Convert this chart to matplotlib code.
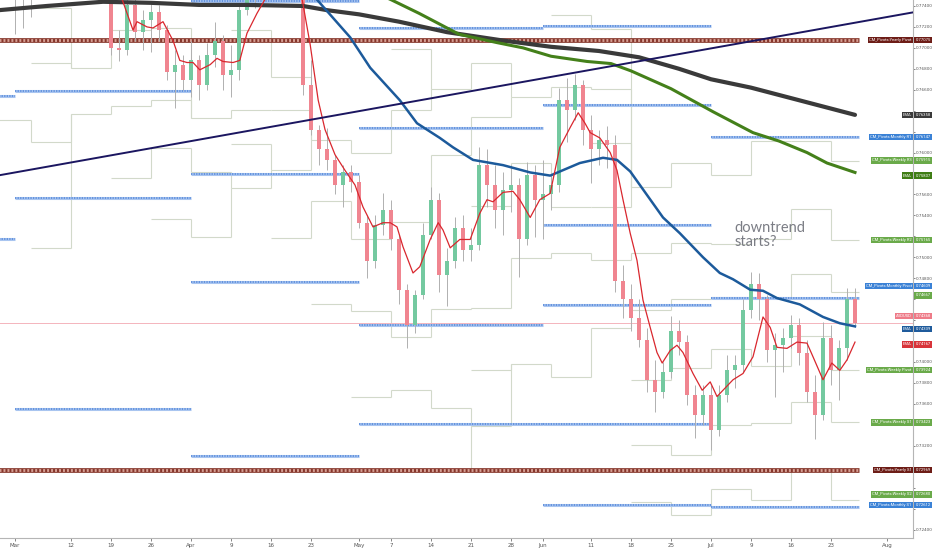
import numpy as np
import pandas as pd
import matplotlib
matplotlib.use('Agg')
import matplotlib.pyplot as plt
import matplotlib.transforms as mtransforms

# AUDUSD daily candles, index 0 = 2018-03-01 (trading days)
opens = [0.7767, 0.7760, 0.7765, 0.7779, 0.7822, 0.7790, 0.7764, 0.7832, 0.7872, 0.7900, 0.7880, 0.7860,
         0.7758, 0.7700, 0.7698, 0.7741, 0.7715, 0.7727, 0.7734, 0.7717, 0.7677, 0.7684,
         0.7669, 0.7688, 0.7665, 0.7693, 0.7707, 0.7674, 0.7679, 0.7736, 0.7765, 0.7758, 0.7760, 0.7790, 0.7795, 0.7805,
         0.7755, 0.7665, 0.7622, 0.7603, 0.7593, 0.7569, 0.7581,
         0.7572, 0.7533, 0.7496, 0.7531, 0.7545, 0.7517, 0.7469, 0.7435, 0.7464, 0.7521, 0.7555, 0.7483, 0.7496,
         0.7528, 0.7507, 0.7512, 0.7588, 0.7569, 0.7545, 0.7564, 0.7569, 0.7517, 0.7579,
         0.7555, 0.7560, 0.7569, 0.7650, 0.7641, 0.7665, 0.7622, 0.7603, 0.7612, 0.7607, 0.7477, 0.7460, 0.7442,
         0.7421, 0.7383, 0.7371, 0.7390, 0.7430, 0.7419, 0.7368, 0.7349,
         0.7368, 0.7335, 0.7368, 0.7392, 0.7397, 0.7450, 0.7474, 0.7460, 0.7411, 0.7416, 0.7423, 0.7435, 0.7409,
         0.7371, 0.7349, 0.7423, 0.7392, 0.7413, 0.7460]
highs = [0.7790, 0.7785, 0.7789, 0.7832, 0.7830, 0.7805, 0.7840, 0.7880, 0.7917, 0.7910, 0.7890, 0.7865,
         0.7765, 0.7717, 0.7753, 0.7750, 0.7736, 0.7744, 0.7741, 0.7722, 0.7698, 0.7693,
         0.7707, 0.7693, 0.7705, 0.7725, 0.7712, 0.7703, 0.7741, 0.7774, 0.7782, 0.7780, 0.7795, 0.7812, 0.7815, 0.7810,
         0.7765, 0.7688, 0.7626, 0.7623, 0.7598, 0.7588, 0.7588,
         0.7579, 0.7540, 0.7540, 0.7561, 0.7555, 0.7521, 0.7474, 0.7469, 0.7533, 0.7567, 0.7561, 0.7509, 0.7538,
         0.7540, 0.7528, 0.7605, 0.7603, 0.7588, 0.7581, 0.7588, 0.7576, 0.7591, 0.7588,
         0.7593, 0.7579, 0.7662, 0.7671, 0.7675, 0.7669, 0.7636, 0.7622, 0.7625, 0.7617, 0.7493, 0.7474, 0.7460,
         0.7432, 0.7402, 0.7400, 0.7444, 0.7440, 0.7426, 0.7378, 0.7378,
         0.7378, 0.7378, 0.7407, 0.7407, 0.7460, 0.7486, 0.7485, 0.7464, 0.7428, 0.7432, 0.7445, 0.7442, 0.7421,
         0.7388, 0.7438, 0.7435, 0.7421, 0.7471, 0.7471]
lows = [0.7713, 0.7719, 0.7729, 0.7772, 0.7770, 0.7755, 0.7755, 0.7825, 0.7850, 0.7862, 0.7848, 0.7755,
        0.7693, 0.7687, 0.7693, 0.7707, 0.7698, 0.7696, 0.7707, 0.7669, 0.7643, 0.7660,
        0.7653, 0.7650, 0.7660, 0.7682, 0.7660, 0.7653, 0.7669, 0.7731, 0.7738, 0.7745, 0.7752, 0.7760, 0.7780, 0.7748,
        0.7655, 0.7617, 0.7588, 0.7583, 0.7560, 0.7548, 0.7562,
        0.7528, 0.7480, 0.7490, 0.7521, 0.7507, 0.7455, 0.7413, 0.7428, 0.7460, 0.7517, 0.7467, 0.7453, 0.7490,
        0.7496, 0.7496, 0.7507, 0.7548, 0.7528, 0.7521, 0.7543, 0.7481, 0.7512, 0.7519,
        0.7517, 0.7545, 0.7562, 0.7610, 0.7631, 0.7607, 0.7571, 0.7588, 0.7585, 0.7467, 0.7442, 0.7430, 0.7414,
        0.7371, 0.7352, 0.7366, 0.7385, 0.7407, 0.7359, 0.7327, 0.7340,
        0.7316, 0.7329, 0.7362, 0.7375, 0.7390, 0.7442, 0.7440, 0.7400, 0.7367, 0.7390, 0.7413, 0.7397, 0.7362,
        0.7326, 0.7345, 0.7378, 0.7364, 0.7402, 0.7435]
closes = [0.7760, 0.7765, 0.7779, 0.7822, 0.7790, 0.7764, 0.7832, 0.7872, 0.7900, 0.7880, 0.7860, 0.7758,
          0.7700, 0.7698, 0.7741, 0.7715, 0.7727, 0.7734, 0.7717, 0.7677, 0.7684, 0.7669,
          0.7688, 0.7665, 0.7693, 0.7707, 0.7674, 0.7679, 0.7736, 0.7765, 0.7758, 0.7760, 0.7790, 0.7795, 0.7805, 0.7755,
          0.7665, 0.7622, 0.7603, 0.7593, 0.7569, 0.7581, 0.7572,
          0.7533, 0.7496, 0.7531, 0.7545, 0.7517, 0.7469, 0.7435, 0.7464, 0.7521, 0.7555, 0.7483, 0.7496, 0.7528,
          0.7507, 0.7512, 0.7588, 0.7569, 0.7545, 0.7564, 0.7569, 0.7517, 0.7579, 0.7555,
          0.7560, 0.7569, 0.7650, 0.7641, 0.7665, 0.7622, 0.7603, 0.7612, 0.7607, 0.7477, 0.7460, 0.7442, 0.7421,
          0.7383, 0.7371, 0.7390, 0.7430, 0.7419, 0.7368, 0.7349, 0.7368,
          0.7335, 0.7368, 0.7392, 0.7397, 0.7450, 0.7474, 0.7460, 0.7411, 0.7416, 0.7423, 0.7435, 0.7409, 0.7371,
          0.7349, 0.7423, 0.7392, 0.7413, 0.7460, 0.7437]

# moving averages (x = trading-day index)
ema_black_x = [-2, 4, 11, 17, 23, 29, 36, 39, 43, 48, 54, 61, 67, 73, 78, 83, 87, 92, 98, 105]
ema_black_y = [0.7736, 0.7740, 0.7744, 0.7743, 0.7741, 0.7741, 0.7740, 0.7736, 0.7732, 0.7725, 0.7715,
               0.7707, 0.7701, 0.7697, 0.7691, 0.7680, 0.7670, 0.7662, 0.7650, 0.7636]
ema_green_x = [45, 47, 50.5, 55.5, 60.25, 63.5, 67, 71.5, 74.5, 77, 82, 87.25, 92.25, 95.5, 99, 101.5, 105]
ema_green_y = [0.7753, 0.7746, 0.7733, 0.7713, 0.7705, 0.7700, 0.7692, 0.7687, 0.7685, 0.7678, 0.7661,
               0.7639, 0.7619, 0.7611, 0.7600, 0.7590, 0.7581]
ema_blue_x = [36.25, 37.75, 41.9, 44.4, 48.1, 50.25, 53.1, 54.75, 57.25, 61, 64.4, 66.9, 70.6, 73.5, 75.25,
              76.9, 81, 83.1, 86, 88.1, 89.75, 91.9, 93.5, 95.25, 98.1, 101, 103.1, 105]
ema_blue_y = [0.7760, 0.7746, 0.7710, 0.7681, 0.7650, 0.7628, 0.7614, 0.7605, 0.7593, 0.7588, 0.7581,
              0.7578, 0.7590, 0.7595, 0.7593, 0.7582, 0.7538, 0.7523, 0.7500, 0.7485, 0.7479, 0.7469,
              0.7468, 0.7461, 0.7455, 0.7443, 0.7437, 0.7434]
ema_red_x = [12.1, 13.4, 14.75, 15.25, 16.5, 17.25, 18.5, 19.75, 20.6, 21.5, 22.25, 23.1, 24.4, 25.25, 26,
             27.25, 28.1, 29, 30.25, 31, 31.9, 35.1, 35.9, 36.9, 37.9, 38.75, 40, 41.25, 42.5, 43.5, 44.75,
             46, 46.9, 47.75, 48.5, 49.75, 50.6, 51.9, 52.9, 53.5, 54.4, 55.6, 56.9, 58.1, 59, 59.75, 61,
             62.25, 63.1, 64.4, 65.6, 66.9, 68.1, 69.4, 70.4, 71.25, 71.9, 73.1, 74.4, 75.25, 76, 76.9,
             77.75, 78.5, 79.4, 80.25, 80.9, 81.9, 82.75, 83.5, 84.75, 85.9, 86.9, 87.75, 89.75, 91, 92.25,
             93.5, 94.4, 95.25, 96.5, 97.75, 99, 99.75, 101, 102.1, 103.1, 104, 105]
ema_red_y = [0.7760, 0.7746, 0.7717, 0.7725, 0.7720, 0.7719, 0.7725, 0.7707, 0.7688, 0.7686, 0.7686,
             0.7679, 0.7684, 0.7690, 0.7687, 0.7686, 0.7688, 0.7714, 0.7733, 0.7743, 0.7755, 0.7757,
             0.7746, 0.7703, 0.7650, 0.7622, 0.7598, 0.7583, 0.7569, 0.7548, 0.7529, 0.7533, 0.7533,
             0.7529, 0.7510, 0.7485, 0.7491, 0.7517, 0.7533, 0.7526, 0.7509, 0.7517, 0.7517, 0.7542,
             0.7555, 0.7553, 0.7562, 0.7563, 0.7555, 0.7538, 0.7555, 0.7561, 0.7605, 0.7624, 0.7638,
             0.7628, 0.7619, 0.7614, 0.7600, 0.7583, 0.7555, 0.7523, 0.7497, 0.7459, 0.7433, 0.7409,
             0.7399, 0.7411, 0.7416, 0.7409, 0.7389, 0.7373, 0.7381, 0.7367, 0.7383, 0.7389, 0.7405,
             0.7443, 0.7433, 0.7414, 0.7413, 0.7419, 0.7418, 0.7405, 0.7383, 0.7399, 0.7392, 0.7402, 0.7419]

# hand-drawn trend line (two anchor points)
trend_x = [0, 105]
trend_y = [0.7581, 0.7724]

yearly_pivot = 0.77075
yearly_s1 = 0.72969
current_price = 0.74368
last_bar = 105.5

# monthly pivots (Feb..Jul)
month_start = [-4, 0, 22, 43, 66, 87]
month_end = [0, 22, 43, 66, 87, 105.5]
monthly_levels = [[0.7654, 0.7517],
                  [0.7659, 0.7557, 0.7355],
                  [0.7745, 0.7580, 0.7476, 0.7310],
                  [0.7719, 0.7623, 0.7435, 0.7341],
                  [0.7721, 0.7645, 0.7531, 0.7454, 0.7341, 0.7263],
                  [0.76147, 0.74609, 0.72612]]

# weekly pivots (week of Feb 26 .. week of Jul 23)
week_start = [-3, 2, 7, 12, 17, 22, 27, 32, 37, 42, 47, 52, 57, 62, 67, 72, 77, 82, 87, 92, 97, 102]
weekly_levels = [[0.7631],
                 [0.7738, 0.7686, 0.7610, 0.7509],
                 [0.7681, 0.7637],
                 [0.7717, 0.7644, 0.7576],
                 [0.7719, 0.7650, 0.7604, 0.7537],
                 [0.7633, 0.7581, 0.7519],
                 [0.7717, 0.7641, 0.7608, 0.7566],
                 [0.7672, 0.7641, 0.7583, 0.7518],
                 [0.7612, 0.7554, 0.7455],
                 [0.7600, 0.7517, 0.7449, 0.7367],
                 [0.7699, 0.7641, 0.7534, 0.7424, 0.7373],
                 [0.7661, 0.7598, 0.7451, 0.7356, 0.7298],
                 [0.7686, 0.7634, 0.7549, 0.7452, 0.7392, 0.7339],
                 [0.7653, 0.7590, 0.7499, 0.7398],
                 [0.7731, 0.7663, 0.7548, 0.7504, 0.7386],
                 [0.7718, 0.7661, 0.7609, 0.7548, 0.7497, 0.7432],
                 [0.7567, 0.7504, 0.7450, 0.7383, 0.7321, 0.7266],
                 [0.7590, 0.7514, 0.7460, 0.7394, 0.7311, 0.7254],
                 [0.7579, 0.7513, 0.7462, 0.7412, 0.7340, 0.7279],
                 [0.7611, 0.7517, 0.7462, 0.7396, 0.7342, 0.7268],
                 [0.7611, 0.7546, 0.7484, 0.7425, 0.7362, 0.7299],
                 [0.75915, 0.75165, 0.74667, 0.73924, 0.73423, 0.72680]]

tick_dates = ['2018-03-01', '2018-03-12', '2018-03-19', '2018-03-26', '2018-04-02', '2018-04-09',
              '2018-04-16', '2018-04-23', '2018-05-01', '2018-05-07', '2018-05-14', '2018-05-21',
              '2018-05-28', '2018-06-01', '2018-06-11', '2018-06-18', '2018-06-25', '2018-07-02',
              '2018-07-09', '2018-07-16', '2018-07-23', '2018-08-01']
tick_labels = ['Mar', '12', '19', '26', 'Apr', '9', '16', '23', 'May', '7', '14', '21', '28', 'Jun',
               '11', '18', '25', 'Jul', '9', '16', '23', 'Aug']

# right-hand price scale labels: (name, value, y, colour)
scale_labels = [("CM_Pivots:Yearly Pivot", "0.77075", 0.77075, '#6d1d17'),
                ("EMA", "0.76358", 0.76358, '#3a3a3a'),
                ("CM_Pivots:Monthly R1", "0.76147", 0.76147, '#3b82d6'),
                ("CM_Pivots:Weekly R3", "0.75915", 0.75925, '#6aaa4a'),
                ("EMA", "0.75807", 0.75780, '#3f7d14'),
                ("CM_Pivots:Weekly R2", "0.75165", 0.75165, '#6aaa4a'),
                ("", "0.74667", 0.74635, '#6aaa4a'),
                ("CM_Pivots:Monthly Pivot", "0.74609", 0.74725, '#3b82d6'),
                ("AUDUSD", "0.74368", 0.74440, '#ee7b88'),
                ("EMA", "0.74339", 0.74315, '#1f5b9c'),
                ("EMA", "0.74167", 0.74167, '#d8343a'),
                ("CM_Pivots:Weekly Pivot", "0.73924", 0.73924, '#6aaa4a'),
                ("CM_Pivots:Weekly S1", "0.73423", 0.73423, '#6aaa4a'),
                ("CM_Pivots:Yearly S1", "0.72969", 0.72969, '#6d1d17'),
                ("CM_Pivots:Weekly S2", "0.72680", 0.72735, '#6aaa4a'),
                ("CM_Pivots:Monthly S1", "0.72612", 0.72635, '#3b82d6')]

fig = plt.figure(figsize=(9.32, 5.5), dpi=100)
fig.patch.set_facecolor('white')
ax = fig.add_axes([0, 12 / 550, 913 / 932, 538 / 550])
ax.set_facecolor('white')

ax.set_xlim(-1.875, 112.25)
ax.set_ylim(0.72319, 0.77457)

# weekly pivots: thin step lines
wk_color = '#d2d9ca'
for w, levels in enumerate(weekly_levels):
    x0 = week_start[w]
    x1 = week_start[w + 1] if w + 1 < len(week_start) else last_bar
    for lv in levels:
        ax.hlines(lv, x0, x1, color=wk_color, lw=0.8, zorder=1)
    if w + 1 < len(weekly_levels):
        nxt = weekly_levels[w + 1]
        for lv in levels:
            near = min(nxt, key=lambda v: abs(v - lv))
            ax.vlines(x1, min(lv, near), max(lv, near), color=wk_color, lw=0.8, zorder=1)

# current price line
ax.axhline(current_price, color='#f4b4bc', lw=0.7, zorder=1)


def beaded(x0, x1, y, base, dot, lw):
    ax.hlines(y, x0, x1, color=base, lw=lw, zorder=2)
    ax.hlines(y, x0, x1, color=dot, lw=lw * 0.6, linestyles=(0, (0.7, 0.7)), zorder=2)


for m, levels in enumerate(monthly_levels):
    for lv in levels:
        beaded(month_start[m], month_end[m], lv, '#a9c5f0', '#5e8fdc', 2.2)

for lv in [yearly_pivot, yearly_s1]:
    beaded(-3, last_bar, lv, '#86362b', '#d7a196', 3.4)

# candles
idx = np.arange(len(closes))
o = np.array(opens)
c = np.array(closes)
up = c >= o
ax.vlines(idx, lows, highs, color='#b0b0b0', lw=0.7, zorder=3)
ax.bar(idx[up], (c - o)[up], bottom=o[up], width=0.38, color='#74c9a0', zorder=4)
ax.bar(idx[~up], (c - o)[~up], bottom=o[~up], width=0.38, color='#f08590', zorder=4)

# moving averages
ax.plot(ema_black_x, ema_black_y, color='#3a3a3a', lw=3.0, zorder=5, solid_capstyle='round')
ax.plot(ema_green_x, ema_green_y, color='#44801a', lw=2.2, zorder=5)
ax.plot(ema_blue_x, ema_blue_y, color='#1c5a9b', lw=1.8, zorder=5)
ax.plot(ema_red_x, ema_red_y, color='#d9272e', lw=0.9, zorder=5)

# trend line
ax.axline((trend_x[0], trend_y[0]), (trend_x[1], trend_y[1]), color='#1b1660', lw=1.4, zorder=6)

ax.text(89.9, 0.7535, "downtrend\nstarts?", ha='left', va='top', fontsize=10.5, color='#7b7d85',
        family=['Lato', 'DejaVu Sans'], linespacing=1.0, zorder=7)

# price scale labels
trans = mtransforms.blended_transform_factory(ax.transAxes, ax.transData)
for name, val, yv, col in scale_labels:
    if name:
        ax.text(0.9985, yv, name, transform=trans, ha='right', va='center', fontsize=3.0, color='white',
                family=['Roboto', 'DejaVu Sans'],
                bbox=dict(boxstyle='square,pad=0.3', fc=col, ec='none'), clip_on=False, zorder=10)
    ax.text(1.0025, yv, val, transform=trans, ha='left', va='center', fontsize=3.0, color='white',
            family=['Roboto', 'DejaVu Sans'],
            bbox=dict(boxstyle='square,pad=0.3', fc=col, ec='none'), clip_on=False, zorder=10)

# axes styling
days = pd.bdate_range('2018-03-01', '2018-08-10')
ax.set_xticks(days.get_indexer(pd.to_datetime(tick_dates)))
ax.set_xticklabels(tick_labels)
yt = np.arange(0.724, 0.7741, 0.002)
label_ys = [s[2] for s in scale_labels]
ax.set_yticks(yt)
# price scale hides tick values that sit behind a label box
ax.set_yticklabels(['' if min(abs(v - ly) for ly in label_ys) < 0.0007 else '%.5f' % v for v in yt])
ax.yaxis.tick_right()
ax.tick_params(axis='x', labelsize=4, colors='#555555', length=2, width=0.5, pad=1.5)
ax.tick_params(axis='y', labelsize=3.0, colors='#555555', length=1.5, width=0.5, pad=0.8)
for s in ['top', 'left']:
    ax.spines[s].set_visible(False)
for s in ['right', 'bottom']:
    ax.spines[s].set_color('#b5b5b5')
    ax.spines[s].set_linewidth(0.8)
ax.grid(False)

fig.savefig('out.png', dpi=100, facecolor='white')
